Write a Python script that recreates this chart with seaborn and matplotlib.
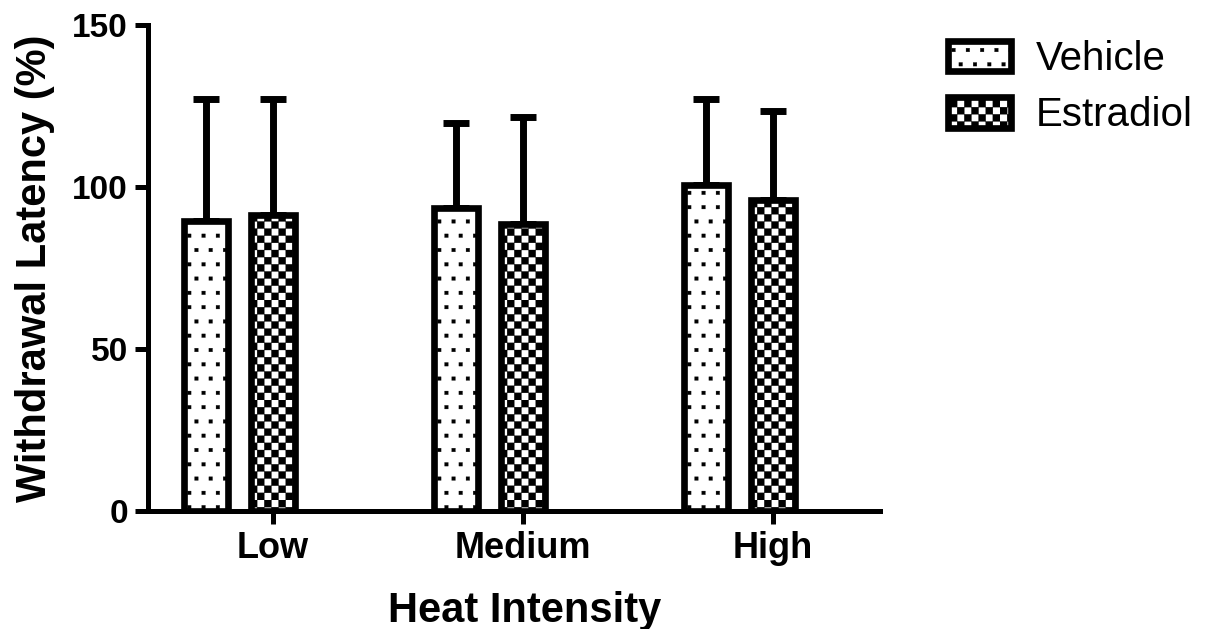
import warnings

import numpy as np
import pandas as pd
import matplotlib
matplotlib.use("Agg")
import matplotlib.pyplot as plt
import matplotlib.patches as mpatches
from matplotlib import hatch as mhatch
from matplotlib.path import Path
import seaborn as sns

warnings.filterwarnings("ignore")

# ---------------------------------------------------------------- data
intensities = ["Low", "Medium", "High"]
treatments = ["Vehicle", "Estradiol"]
vehicle_mean = [89.5, 93.4, 100.6]
vehicle_sd = [37.5, 26.2, 26.7]
estradiol_mean = [91.2, 88.7, 96.1]
estradiol_sd = [36.0, 33.0, 27.2]
y_ticks = [0, 50, 100, 150]


# ------------------------------------------------- fill patterns (hatches)
class _SquareLattice(mhatch.HatchPatternBase):
    """Filled little squares laid out on a lattice inside one hatch tile."""
    symbol = ""
    side = 0.03

    def __init__(self, hatch, density):
        count = hatch.count(self.symbol) if hatch else 0
        self.centers = self._centers() if count else np.empty((0, 2))
        self.num_vertices = len(self.centers) * 5

    def _centers(self):
        raise NotImplementedError

    def set_vertices_and_codes(self, vertices, codes):
        h = self.side / 2
        square = np.array([[-h, -h], [h, -h], [h, h], [-h, h], [-h, -h]])
        vertices[:] = (self.centers[:, None, :] + square[None]).reshape(-1, 2)
        c = np.full((len(self.centers), 5), Path.LINETO, dtype=Path.code_type)
        c[:, 0] = Path.MOVETO
        c[:, 4] = Path.CLOSEPOLY
        codes[:] = c.ravel()


class DotLattice(_SquareLattice):
    """Sparse staggered dots."""
    symbol = "."
    side = 0.036
    n = 7

    def _centers(self):
        pts = [((i + 0.25 + 0.5 * (j % 2)) / self.n, (j + 0.5) / self.n)
               for j in range(self.n) for i in range(self.n)]
        return np.array(pts)


class CheckerLattice(_SquareLattice):
    """Fine checkerboard."""
    symbol = "+"
    cells = 14
    side = 1.0 / 14

    def _centers(self):
        m = self.cells
        pts = [((2 * i + (j % 2) + 0.5) / m, (j + 0.5) / m)
               for j in range(m) for i in range(m // 2)]
        return np.array(pts)


mhatch._hatch_types = [DotLattice, CheckerLattice]
hatches = {"Vehicle": ".", "Estradiol": "+"}

# ---------------------------------------------------------------- style
sns.set_style("ticks")
plt.rcParams["font.family"] = ["Liberation Sans", "DejaVu Sans"]
plt.rcParams["hatch.linewidth"] = 0.2
plt.rcParams["hatch.color"] = "black"
for key in ("text.color", "axes.labelcolor", "xtick.color", "ytick.color",
            "axes.edgecolor"):
    plt.rcParams[key] = "black"

EDGE_LW = 4.8
AXIS_LW = 3.6

df = pd.DataFrame({
    "Heat Intensity": intensities * 2,
    "Treatment": np.repeat(treatments, len(intensities)),
    "Latency": vehicle_mean + estradiol_mean,
})

fig = plt.figure(figsize=(12.08, 6.29), dpi=100)
ax = fig.add_axes([0.1225, 0.1876, 0.606, 0.7727])

sns.barplot(
    data=df, x="Heat Intensity", y="Latency", hue="Treatment",
    order=intensities, hue_order=treatments,
    palette=["white", "white"], saturation=1,
    width=0.536, gap=0.336, errorbar=None,
    edgecolor="black", linewidth=EDGE_LW, legend=False, ax=ax,
)

means = {"Vehicle": vehicle_mean, "Estradiol": estradiol_mean}
sds = {"Vehicle": vehicle_sd, "Estradiol": estradiol_sd}
centers = {}
for cont, name in zip(ax.containers, treatments):
    xs = []
    for bar in cont:
        bar.set_hatch(hatches[name])
        bar.set_zorder(3)
        xs.append(bar.get_x() + bar.get_width() / 2)
    centers[name] = xs
    ax.errorbar(xs, means[name],
                yerr=[np.zeros(len(xs)), sds[name]],
                fmt="none", ecolor="black", elinewidth=5,
                capsize=9.5, capthick=5, zorder=2)

# axes
ax.set_ylim(0, 150)
ax.set_xlim(-0.366, 2.562)
ax.set_yticks(y_ticks)
ax.set_xticks(centers["Estradiol"], intensities)
for side in ("top", "right"):
    ax.spines[side].set_visible(False)
for side in ("left", "bottom"):
    ax.spines[side].set_linewidth(AXIS_LW)
    ax.spines[side].set_color("black")
ax.tick_params(axis="both", direction="out", length=9.5, width=AXIS_LW,
               color="black", labelcolor="black", pad=5)
ax.tick_params(axis="x", labelsize=26)
ax.tick_params(axis="y", labelsize=24)
for lab in ax.get_xticklabels() + ax.get_yticklabels():
    lab.set_fontweight("bold")

ax.set_xlabel("Heat Intensity", fontsize=30, fontweight="bold")
ax.xaxis.set_label_coords(0.515, -0.165)
ax.set_ylabel("Withdrawal Latency (%)", fontsize=30, fontweight="bold",
              labelpad=12)

handles = [mpatches.Patch(facecolor="white", edgecolor="black",
                          hatch=hatches[t], linewidth=EDGE_LW, label=t)
           for t in treatments]
fig.legend(handles=handles, loc="upper left",
           bbox_to_anchor=(0.785, 1 - 40 / 629), frameon=False,
           fontsize=29, handlelength=1.55, handleheight=0.8,
           handletextpad=0.62, labelspacing=0.45,
           borderpad=0, borderaxespad=0)

fig.savefig("out.png", dpi=100)
